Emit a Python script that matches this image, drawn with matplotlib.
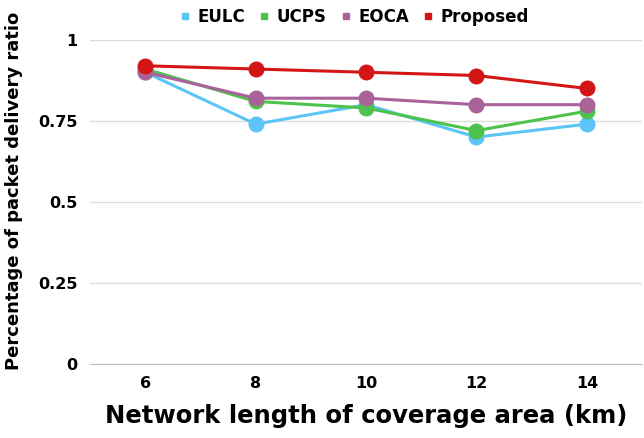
import matplotlib.pyplot as plt

# Data
lengths = ['6', '8', '10', '12', '14']
eulc = [0.90, 0.74, 0.80, 0.70, 0.74]
ucps = [0.91, 0.81, 0.79, 0.72, 0.78]
eoca = [0.90, 0.82, 0.82, 0.80, 0.80]
proposed = [0.92, 0.91, 0.90, 0.89, 0.85]

series = [
    ('EULC', eulc, '#5BC5F7'),
    ('UCPS', ucps, '#4DC34D'),
    ('EOCA', eoca, '#AA6399'),
    ('Proposed', proposed, '#D41515'),
]

plt.rcParams['font.family'] = ['DejaVu Sans']
fig = plt.figure(figsize=(6.44, 4.38), dpi=100)
ax = fig.add_axes([0.140, 0.169, 0.857, 0.740])

x = range(len(lengths))
for name, vals, col in series:
    ax.plot(x, vals, color=col, lw=2.2, marker='o', markersize=10.5,
            label=name, zorder=3)

ax.set_xlim(-0.5, len(lengths) - 0.5)
ax.set_ylim(0, 1)
ax.set_yticks([0, 0.25, 0.5, 0.75, 1])
ax.set_yticklabels(['0', '0.25', '0.5', '0.75', '1'])
ax.set_xticks(list(x))
ax.set_xticklabels(lengths)
ax.tick_params(length=0, labelsize=11.5, pad=9)
for lab in ax.get_xticklabels() + ax.get_yticklabels():
    lab.set_fontweight('semibold')

ax.grid(axis='y', color='#DDDDDD', lw=1)
for s in ['top', 'right', 'left']:
    ax.spines[s].set_visible(False)
ax.spines['bottom'].set_color('#BFBFBF')

ax.set_xlabel('Network length of coverage area (km)', fontsize=17.5,
              fontweight='bold', labelpad=9)
ax.set_ylabel('Percentage of packet delivery ratio', fontsize=13,
              fontweight='bold')
ax.yaxis.set_label_coords(-0.122, 0.535)

leg = ax.legend(loc='center', bbox_to_anchor=(0.48, 1.07), ncol=4,
                frameon=False, fontsize=12, handlelength=0.5,
                handletextpad=0.5, columnspacing=0.9, markerscale=0.45)
for h in leg.legend_handles:
    h.set_linestyle('None')
    h.set_marker('s')
for t in leg.get_texts():
    t.set_fontweight('bold')

fig.savefig('out.png', dpi=100)
